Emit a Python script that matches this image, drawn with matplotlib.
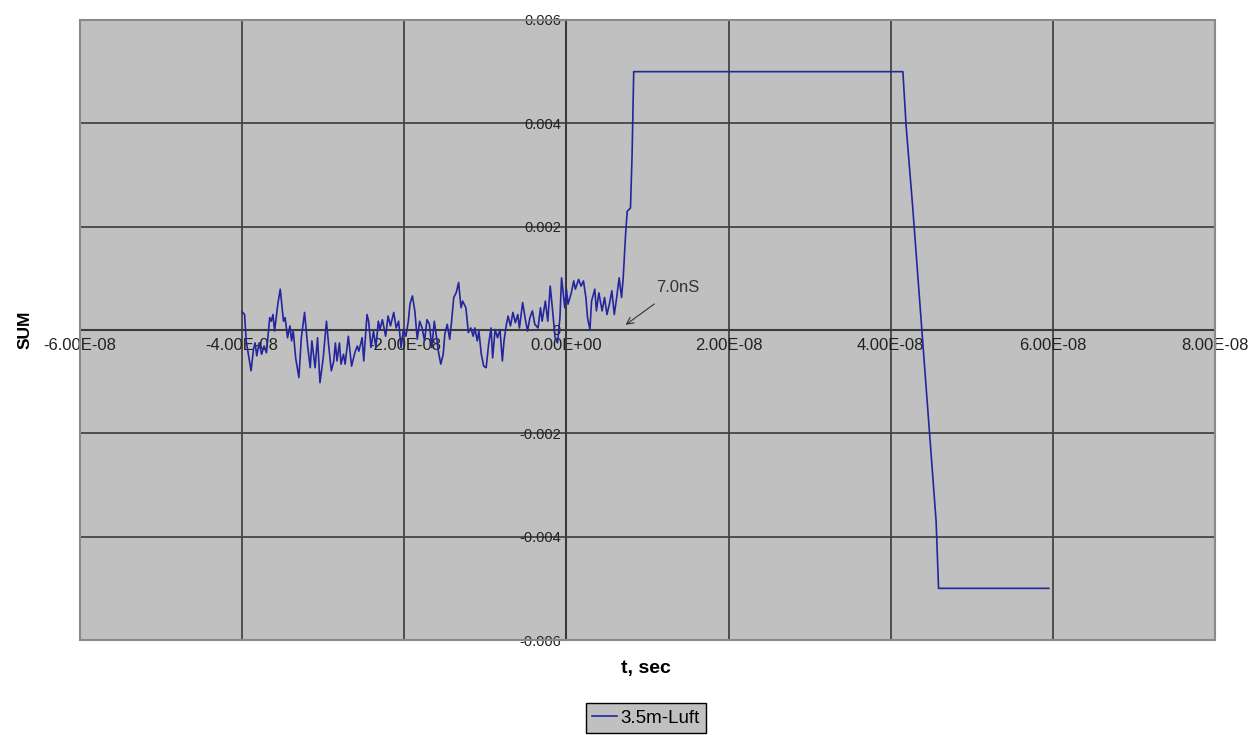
import matplotlib.pyplot as plt
from matplotlib.patches import Rectangle
from matplotlib.lines import Line2D

plt.rcParams['font.family'] = ['Liberation Sans', 'DejaVu Sans']

# time in ns, SUM in units of 1e-3
t_ns = [
    -40.0, -39.7, -39.5, -38.9, -38.6, -38.4, -38.2, -37.9, -37.6, -37.3, -37.0,
    -36.6, -36.4, -36.2, -36.0, -35.6, -35.3, -34.9, -34.7, -34.4, -34.1, -33.9,
    -33.7, -33.4, -33.0, -32.7, -32.3, -31.9, -31.6, -31.4, -31.0, -30.7, -30.4,
    -30.0, -29.6, -29.3, -29.0, -28.7, -28.5, -28.3, -28.0, -27.8, -27.5, -27.3,
    -26.9, -26.5, -26.1, -25.8, -25.6, -25.2, -25.0, -24.6, -24.4, -24.1, -23.8,
    -23.5, -23.2, -23.0, -22.7, -22.3, -22.0, -21.7, -21.3, -21.0, -20.7, -20.4,
    -20.1, -19.8, -19.5, -19.3, -19.0, -18.7, -18.4, -18.1, -17.8, -17.5, -17.2,
    -16.9, -16.6, -16.3, -16.1, -15.8, -15.5, -15.2, -15.0, -14.7, -14.4, -14.2,
    -13.9, -13.6, -13.3, -13.0, -12.8, -12.4, -12.1, -11.8, -11.5, -11.3, -11.0,
    -10.8, -10.5, -10.2, -9.9, -9.6, -9.3, -9.1, -8.8, -8.5, -8.2, -7.9, -7.7,
    -7.4, -7.2, -6.9, -6.6, -6.3, -6.0, -5.8, -5.4, -5.1, -4.8, -4.5, -4.2, -3.9,
    -3.5, -3.2, -3.0, -2.6, -2.3, -2.0, -1.7, -1.4, -1.1, -0.8, -0.6, -0.2, 0.0,
    0.2, 0.6, 0.9, 1.1, 1.5, 1.8, 2.1, 2.4, 2.6, 2.9, 3.1, 3.5, 3.7, 4.0, 4.4,
    4.7, 5.0, 5.3, 5.6, 5.9, 6.2, 6.5, 6.8, 7.0,
    7.3, 7.5, 7.9, 8.1, 8.3,
    41.5, 41.9, 42.7, 45.6, 45.9, 59.5,
]
sum_mv = [
    0.35, 0.30, -0.21, -0.79, -0.37, -0.25, -0.50, -0.25, -0.47, -0.31, -0.44,
    0.24, 0.17, 0.30, -0.02, 0.50, 0.79, 0.17, 0.24, -0.15, 0.08, -0.21,
    -0.02, -0.54, -0.92, -0.15, 0.34, -0.34, -0.73, -0.21, -0.73, -0.15, -1.02,
    -0.54, 0.17, -0.34, -0.79, -0.60, -0.25, -0.60, -0.25, -0.66, -0.47, -0.66,
    -0.12, -0.70, -0.44, -0.31, -0.41, -0.15, -0.60, 0.30, 0.17, -0.34, -0.02,
    -0.34, 0.17, 0.01, 0.20, -0.12, 0.27, 0.08, 0.34, 0.04, 0.17, -0.34,
    0.01, -0.12, 0.17, 0.50, 0.66, 0.37, -0.18, 0.17, 0.04, -0.21, 0.20,
    0.11, -0.34, 0.17, -0.05, -0.41, -0.66, -0.47, -0.08, 0.11, -0.18, 0.11,
    0.63, 0.72, 0.92, 0.43, 0.56, 0.43, -0.05, 0.04, -0.12, 0.04, -0.21,
    -0.02, -0.47, -0.70, -0.73, -0.28, 0.04, -0.54, 0.01, -0.15, 0.01, -0.60, -0.21,
    0.11, 0.27, 0.08, 0.34, 0.14, 0.30, 0.04, 0.53, 0.24, -0.02, 0.24, 0.37, 0.11,
    0.04, 0.43, 0.17, 0.56, 0.17, 0.85, 0.37, -0.15, -0.25, 0.24, 1.01, 0.43, 0.79,
    0.50, 0.72, 0.95, 0.79, 0.98, 0.85, 0.95, 0.63, 0.24, 0.01, 0.56, 0.79, 0.37, 0.72, 0.37,
    0.63, 0.30, 0.50, 0.76, 0.30, 0.63, 1.01, 0.63, 1.00,
    1.86, 2.30, 2.36, 3.40, 5.00,
    5.00, 3.95, 2.40, -3.70, -5.00, -5.00,
]

x_ticks = [-6e-8, -4e-8, -2e-8, 0, 2e-8, 4e-8, 6e-8, 8e-8]
x_labels = ["-6.00E-08", "-4.00E-08", "-2.00E-08", "0.00E+00",
            "2.00E-08", "4.00E-08", "6.00E-08", "8.00E-08"]
y_ticks = [-0.006, -0.004, -0.002, 0, 0.002, 0.004, 0.006]
y_labels = ["-0.006", "-0.004", "-0.002", "0", "0.002", "0.004", "0.006"]

t = [v * 1e-9 for v in t_ns]
s = [v * 1e-3 for v in sum_mv]

fig = plt.figure(figsize=(12.6, 7.35), dpi=100)
ax = fig.add_axes([80 / 1260, 1 - 640 / 735, 1135 / 1260, 620 / 735])
ax.set_facecolor('#C0C0C0')

line_color = '#25259E'
ax.plot(t, s, color=line_color, lw=1.2, zorder=3)

ax.set_xlim(-6e-8, 8e-8)
ax.set_ylim(-0.006, 0.006)
ax.set_xticks(x_ticks)
ax.set_xticklabels(x_labels)
ax.set_yticks(y_ticks)
ax.set_yticklabels(y_labels)

ax.grid(True, color='#444444', lw=1.3, zorder=1)
ax.set_axisbelow(True)

for side in ('top', 'right'):
    ax.spines[side].set_visible(False)
ax.spines['left'].set_position(('data', 0))
ax.spines['bottom'].set_position(('data', 0))
for side in ('left', 'bottom'):
    ax.spines[side].set_color('#3a3a3a')
    ax.spines[side].set_linewidth(1.5)
    ax.spines[side].set_zorder(2)

ax.tick_params(axis='both', length=0, labelcolor='#222222')
ax.tick_params(axis='x', pad=6, labelsize=12)
ax.tick_params(axis='y', pad=4, labelsize=10.5)

# plot area frame
ax.add_patch(Rectangle((0, 0), 1, 1, transform=ax.transAxes, fill=False,
                       edgecolor='#8a8a8a', lw=1.5, zorder=4, clip_on=False))

ax.annotate("7.0nS", xy=(7.3e-9, 0.0001), xytext=(13.7e-9, 0.00083),
            fontsize=12, color='#333333', ha='center', va='center',
            arrowprops=dict(arrowstyle='->', color='#333333', lw=0.8,
                            shrinkA=8, shrinkB=0))

fig.text(646 / 1260, 1 - 668 / 735, "t, sec", fontsize=14, fontweight='bold',
         ha='center', va='center')
fig.text(25 / 1260, 1 - 330 / 735, "SUM", fontsize=12.5, fontweight='bold',
         rotation=90, ha='center', va='center')

handle = Line2D([], [], color=line_color, lw=1.2)
leg = fig.legend([handle], ["3.5m-Luft"], loc='center',
                 bbox_to_anchor=(646 / 1260, 1 - 718 / 735), fontsize=13.5,
                 frameon=True, fancybox=False, framealpha=1,
                 facecolor='#C0C0C0', edgecolor='#000000',
                 handlelength=1.3, borderpad=0.35, borderaxespad=0,
                 handletextpad=0.2)
leg.get_frame().set_linewidth(1.0)

fig.savefig('out.png', dpi=100)
